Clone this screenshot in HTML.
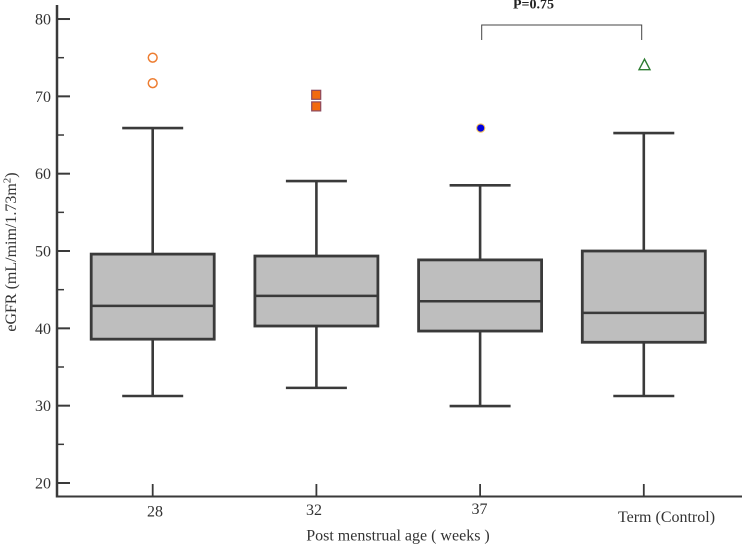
<!DOCTYPE html>
<html>
<head>
<meta charset="utf-8">
<style>
html,body{margin:0;padding:0;background:#fff;width:742px;height:544px;overflow:hidden}
svg{display:block}
text{font-family:"Liberation Serif",serif;fill:#333}
</style>
</head>
<body>
<svg id="chart" width="742" height="544" viewBox="0 0 742 544" xmlns="http://www.w3.org/2000/svg">
<text transform="translate(16,252) rotate(-90)" text-anchor="middle" font-size="16">eGFR (mL/mim/1.73m<tspan dy="-5.5" font-size="11">2</tspan><tspan dy="5.5">)</tspan></text>
<text x="398" y="540.5" text-anchor="middle" font-size="16">Post menstrual age ( weeks )</text>
<text x="533.5" y="8.5" text-anchor="middle" font-size="14" font-weight="bold" style="fill:#222">P=0.75</text>
<path d="M481.7 40V25H641.7V40" fill="none" stroke="#444" stroke-width="1"/>
</svg>
<script>
var categories = ['28', '32', '37', 'Term (Control)'];
var whiskerLow = [31.25, 32.3, 29.95, 31.25];
var q1 = [38.6, 40.3, 39.65, 38.2];
var median = [42.9, 44.2, 43.5, 42.0];
var q3 = [49.6, 49.35, 48.85, 50.0];
var whiskerHigh = [65.9, 59.05, 58.5, 65.25];
var outliers28 = [75.0, 71.7];
var outliers32 = [70.2, 68.7];
var outliers37 = [65.9];
var outliersTerm = [74.1];
var yTickLabels = [20, 30, 40, 50, 60, 70, 80];
var yMinorTicks = [25, 35, 45, 55, 65, 75];

var svg = document.getElementById('chart');
var NS = 'http://www.w3.org/2000/svg';
function yScale(v) { return 483 - (v - 20) * 7.733; }
function xScale(i) { return 152.7 + i * 163.7; }
function mk(tag, attrs, name) {
  var el = document.createElementNS(NS, tag);
  for (var k in attrs) el.setAttribute(k, attrs[k]);
  
  
  svg.appendChild(el);
  return el;
}
function line(x1, y1, x2, y2, w, name) {
  return mk('line', { x1: x1, y1: y1, x2: x2, y2: y2, stroke: '#3a3a3a', 'stroke-width': w }, name);
}

line(57, 5, 57, 497.5, 2.5, 'y-axis-line');
line(56, 496.5, 742, 496.5, 2, 'x-axis-line');

yTickLabels.forEach(function (v) {
  var y = yScale(v);
  line(57, y, 70, y, 2, 'y-major-tick');
  var t = mk('text', { x: 51, y: y + 5.5, 'text-anchor': 'end', 'font-size': 16 }, 'y-tick-label');
  t.textContent = v;
});
yMinorTicks.forEach(function (v) {
  var y = yScale(v);
  line(57, y, 64, y, 1.5, 'y-minor-tick');
});

var labelDx = [2.3, -2.4, -0.6, 22.7];
var labelY = [516.5, 515, 514, 522];
categories.forEach(function (c, i) {
  var x = xScale(i);
  line(x, 484, x, 496, 1.8, 'x-tick');
  var t = mk('text', { x: x + labelDx[i], y: labelY[i], 'text-anchor': 'middle', 'font-size': 16 }, 'x-tick-label');
  t.textContent = c;

  var cap = 30.5;
  var half = 61.5;
  line(x, yScale(whiskerHigh[i]), x, yScale(q3[i]), 2.6, 'whisker-upper');
  line(x, yScale(q1[i]), x, yScale(whiskerLow[i]), 2.6, 'whisker-lower');
  line(x - cap, yScale(whiskerHigh[i]), x + cap, yScale(whiskerHigh[i]), 2.6, 'whisker-cap-upper');
  line(x - cap, yScale(whiskerLow[i]), x + cap, yScale(whiskerLow[i]), 2.6, 'whisker-cap-lower');
  mk('rect', {
    x: x - half, y: yScale(q3[i]), width: half * 2, height: yScale(q1[i]) - yScale(q3[i]),
    fill: '#bebebe', stroke: '#3a3a3a', 'stroke-width': 2.8
  }, 'box');
  line(x - half, yScale(median[i]), x + half, yScale(median[i]), 2.5, 'median-line');
});

outliers28.forEach(function (v) {
  mk('circle', { cx: xScale(0), cy: yScale(v), r: 4.4, fill: '#fff', stroke: '#ed7d31', 'stroke-width': 1.5 }, 'outlier-28');
});
outliers32.forEach(function (v) {
  var x = xScale(1) - 0.2, y = yScale(v);
  mk('rect', { x: x - 4.5, y: y - 4.5, width: 9, height: 9, fill: '#f26a10', stroke: '#8e4a5e', 'stroke-width': 1.2 }, 'outlier-32');
});
outliers37.forEach(function (v) {
  mk('circle', { cx: xScale(2) + 0.6, cy: yScale(v), r: 4.1, fill: '#0000e0', stroke: '#f0c060', 'stroke-width': 1.1 }, 'outlier-37');
});
outliersTerm.forEach(function (v) {
  var x = xScale(3) + 0.7, y = yScale(v);
  mk('polygon', {
    points: (x - 5.5) + ',' + (y + 5) + ' ' + x + ',' + (y - 5.5) + ' ' + (x + 5.5) + ',' + (y + 5),
    fill: '#fff', stroke: '#2e7d32', 'stroke-width': 1.4
  }, 'outlier-term');
});
</script>
</body>
</html>
